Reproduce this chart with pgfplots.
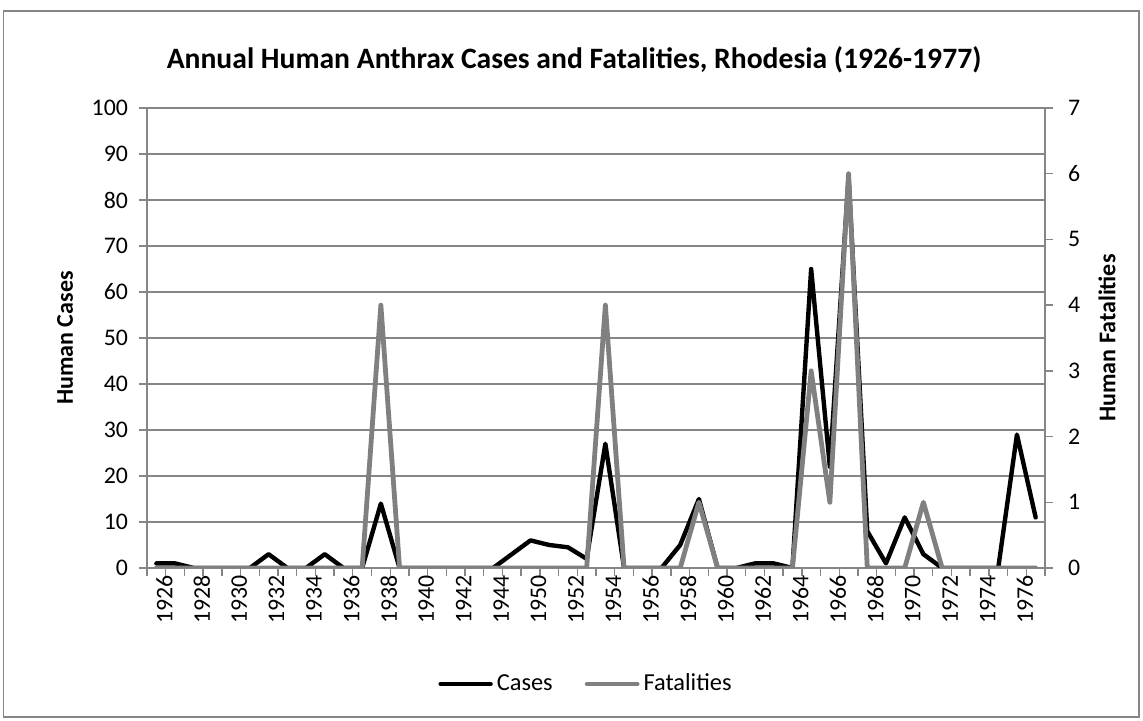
\documentclass[border=0pt]{standalone}
\usepackage{fontspec}
\setmainfont{Carlito}
\usepackage{pgfplots}
\pgfplotsset{compat=1.18}
\usepackage{pgfplotstable}
\definecolor{axgray}{HTML}{868686}
\definecolor{fatgray}{HTML}{808080}

\pgfplotstableread{
idx cases fat
0 1 0
1 1 0
2 0 0
3 0 0
4 0 0
5 0 0
6 3 0
7 0 0
8 0 0
9 3 0
10 0 0
11 0 0
12 14 4
13 0 0
14 0 0
15 0 0
16 0 0
17 0 0
18 0 0
19 3 0
20 6 0
21 5 0
22 4.5 0
23 2 0
24 27 4
25 0 0
26 0 0
27 0 0
28 5 0
29 15 1
30 0 0
31 0 0
32 1 0
33 1 0
34 0 0
35 65 3
36 22 1
37 85 6
38 8 0
39 1 0
40 11 0
41 3 1
42 0 0
43 0 0
44 0 0
45 0 0
46 29 0
47 11 0
}\data

\newcommand{\tickfont}{\fontsize{11.9}{12}\selectfont}
\newcommand{\labfont}{\fontsize{12}{13}\selectfont\bfseries}

\pgfplotsset{
  common/.style={
    at={(73.5pt,76.5pt)}, anchor=south west,
    width=449pt, height=230pt, scale only axis,
    xmin=-0.5, xmax=47.5,
    tick align=outside,
    major tick length=4pt,
    tick style={axgray, line width=0.7pt},
    axis line style={axgray, line width=0.7pt},
    /pgf/number format/assume math mode=true,
    ticklabel style={font=\tickfont, text=black},
  }
}

\begin{document}
\begin{tikzpicture}
\useasboundingbox (0,0) rectangle (571.5pt,360.5pt);
\draw[axgray, line width=0.8pt] (1.75pt,2pt) rectangle (569.5pt,355pt);

\begin{axis}[common,
  ymin=0, ymax=100, ytick={0,10,...,100},
  axis x line*=bottom, axis y line*=left,
  ymajorgrids, grid style={axgray, line width=0.7pt},
  xtick={-0.5,0.5,...,47.5}, xticklabels={},
  extra x ticks={0,2,...,46},
  extra x tick labels={1926,1928,1930,1932,1934,1936,1938,1940,1942,1944,1950,1952,1954,1956,1958,1960,1962,1964,1966,1968,1970,1972,1974,1976},
  extra x tick style={major tick length=0pt, xticklabel style={rotate=90, anchor=east, yshift=-4pt}},
  yticklabel style={xshift=-2pt},
  every axis y label/.style={at={(axis description cs:-0.0913,0.5)}, rotate=90, anchor=center},
  ylabel={\labfont Human Cases},
]
\addplot[black, line width=2.2pt, line join=round, line cap=round] table[x=idx, y=cases] {\data};
\end{axis}

\begin{axis}[common,
  ymin=0, ymax=7, ytick={0,1,...,7},
  axis y line*=right, axis x line=none,
  yticklabel style={xshift=4pt},
  every axis y label/.style={at={(axis description cs:1.069,0.5)}, rotate=90, anchor=center},
  ylabel={\labfont Human Fatalities},
  legend style={at={(0.49,-0.252)}, anchor=center, draw=none, fill=none,
    legend columns=2, font=\fontsize{12.2}{13}\selectfont,
    /tikz/every even column/.append style={column sep=14pt}},
  legend image code/.code={\draw[#1] (0pt,0pt) -- (25pt,0pt);},
]
\addlegendimage{black, line width=2.2pt, line cap=round}
\addlegendentry{Cases}
\addplot[fatgray, line width=2.4pt, line join=round, line cap=round] table[x=idx, y=fat] {\data};
\addlegendentry{Fatalities}
\end{axis}

\node[font=\fontsize{14.8}{17}\selectfont\bfseries] at (287pt,330.5pt) {Annual Human Anthrax Cases and Fatalities, Rhodesia (1926-1977)};
\end{tikzpicture}
\end{document}
